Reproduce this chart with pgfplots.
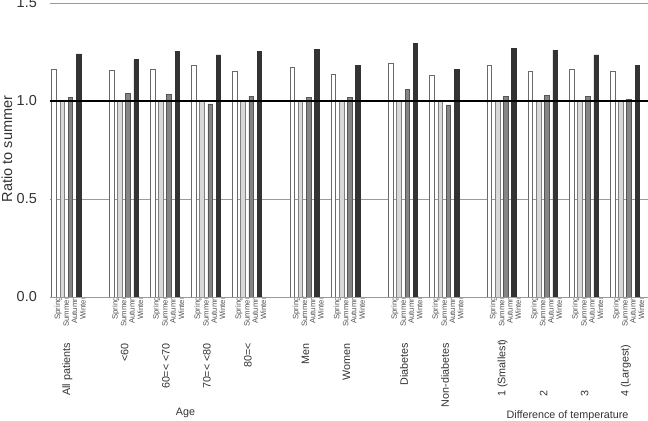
\documentclass[border=0pt]{standalone}
\usepackage{pgfplots}
\pgfplotsset{compat=1.18}
\usepackage{pgfplotstable}
\usepackage{fontspec}
\setmainfont{Liberation Sans}
\definecolor{txt}{HTML}{333333}
\definecolor{sprline}{HTML}{6A6A6A}
\definecolor{sumfill}{HTML}{D8D8D8}
\definecolor{sumline}{HTML}{808080}
\definecolor{autfill}{HTML}{858585}
\definecolor{autline}{HTML}{555555}
\definecolor{winfill}{HTML}{333333}
\definecolor{gridc}{HTML}{9A9A9A}

% x positions (spring bar of each group) and values
\pgfplotstableread{
xs   xu   xa   xw   spring summer autumn winter
0    1    2    3    1.160  1.0    1.020  1.240
7    8    9    10   1.155  1.0    1.040  1.210
12   13   14   15   1.160  1.0    1.035  1.255
17   18   19   20   1.180  1.0    0.985  1.235
22   23   24   25   1.150  1.0    1.025  1.255
29   30   31   32   1.170  1.0    1.020  1.265
34   35   36   37   1.135  1.0    1.020  1.180
41   42   43   44   1.190  1.0    1.060  1.295
46   47   48   49   1.130  1.0    0.980  1.160
53   54   55   56   1.180  1.0    1.025  1.270
58   59   60   61   1.150  1.0    1.030  1.260
63   64   65   66   1.160  1.0    1.025  1.235
68   69   70   71   1.150  1.0    1.010  1.180
}\datatable

\newcommand{\gl}{\fontsize{10.8}{12}\selectfont}
\tikzset{gtop/.style={rotate=90, anchor=east, inner sep=0pt, font=\gl, text=txt},
         gbot/.style={rotate=90, anchor=west, inner sep=0pt, font=\gl, text=txt}}
\begin{document}
\begin{tikzpicture}
\path[use as bounding box] (0bp,0bp) rectangle (648bp,421bp);
\begin{axis}[
  at={(50bp,124bp)}, anchor=south west,
  scale only axis, width=598bp, height=294bp,
  xmin=-0.5, xmax=72.3, ymin=0, ymax=1.5,
  axis line style={draw=none},
  major tick length=0pt,
  ytick={0,0.5,1.0,1.5},
  ymajorgrids, grid style={gridc, line width=0.8bp},
  yticklabel style={font=\fontsize{14.5}{16}\selectfont, text=txt, anchor=east, inner sep=0pt, xshift=-13bp,
    /pgf/number format/.cd, fixed, fixed zerofill, precision=1, assume math mode=true},
  xtick={0,1,2,3,7,8,9,10,12,13,14,15,17,18,19,20,22,23,24,25,29,30,31,32,34,35,36,37,41,42,43,44,46,47,48,49,53,54,55,56,58,59,60,61,63,64,65,66,68,69,70,71},
  xticklabels={Spring,Summer,Autumn,Winter,Spring,Summer,Autumn,Winter,Spring,Summer,Autumn,Winter,Spring,Summer,Autumn,Winter,Spring,Summer,Autumn,Winter,Spring,Summer,Autumn,Winter,Spring,Summer,Autumn,Winter,Spring,Summer,Autumn,Winter,Spring,Summer,Autumn,Winter,Spring,Summer,Autumn,Winter,Spring,Summer,Autumn,Winter,Spring,Summer,Autumn,Winter,Spring,Summer,Autumn,Winter},
  xticklabel style={font=\fontsize{7.8}{8}\selectfont, text=txt!85, rotate=90, anchor=east, inner sep=0pt, yshift=-4bp},
  ybar, bar width=4.6bp,
  clip=false,
]
\addplot[bar shift=0pt, draw=sprline, fill=white, line width=0.7bp] table[x=xs, y=spring]{\datatable};
\addplot[bar shift=0pt, draw=sumline, fill=sumfill, line width=0.7bp] table[x=xu, y=summer]{\datatable};
\addplot[bar shift=0pt, draw=autline, fill=autfill, line width=0.7bp] table[x=xa, y=autumn]{\datatable};
\addplot[bar shift=0pt, draw=winfill, fill=winfill, line width=0.7bp] table[x=xw, y=winter]{\datatable};
\draw[black, line width=1.8bp] (axis cs:-0.5,1) -- (axis cs:72.3,1);
\draw[gridc, line width=0.8bp] (axis cs:-0.5,0) -- (axis cs:72.3,0);
% group labels
\node[gtop] at ([yshift=-46bp]axis cs:1.6,0) {All patients};
\node[gtop] at ([yshift=-46bp]axis cs:8.6,0) {<60};
\node[gtop] at ([yshift=-46bp]axis cs:13.6,0) {60=< <70};
\node[gtop] at ([yshift=-46bp]axis cs:18.6,0) {70=< <80};
\node[gtop] at ([yshift=-46bp]axis cs:23.6,0) {80=<};
\node[gtop] at ([yshift=-46bp]axis cs:30.6,0) {Men};
\node[gtop] at ([yshift=-46bp]axis cs:35.6,0) {Women};
\node[gtop] at ([yshift=-46bp]axis cs:42.6,0) {Diabetes};
\node[gtop] at ([yshift=-46bp]axis cs:47.6,0) {Non-diabetes};
\node[gbot] at ([yshift=-100bp]axis cs:54.6,0) {1 (Smallest)};
\node[gbot] at ([yshift=-100bp]axis cs:59.6,0) {2};
\node[gbot] at ([yshift=-100bp]axis cs:64.6,0) {3};
\node[gbot] at ([yshift=-100bp]axis cs:69.6,0) {4 (Largest)};
\node[anchor=base, inner sep=0pt, font=\gl, text=txt] at ([yshift=-118bp]axis cs:16,0) {Age};
\node[anchor=base, inner sep=0pt, font=\gl, text=txt] at ([yshift=-121bp]axis cs:62.5,0) {Difference of temperature};
\end{axis}
\node[rotate=90, anchor=center, inner sep=0pt, font=\fontsize{14.6}{16}\selectfont, text=txt] at (7bp,272bp) {Ratio to summer};
\end{tikzpicture}
\end{document}
